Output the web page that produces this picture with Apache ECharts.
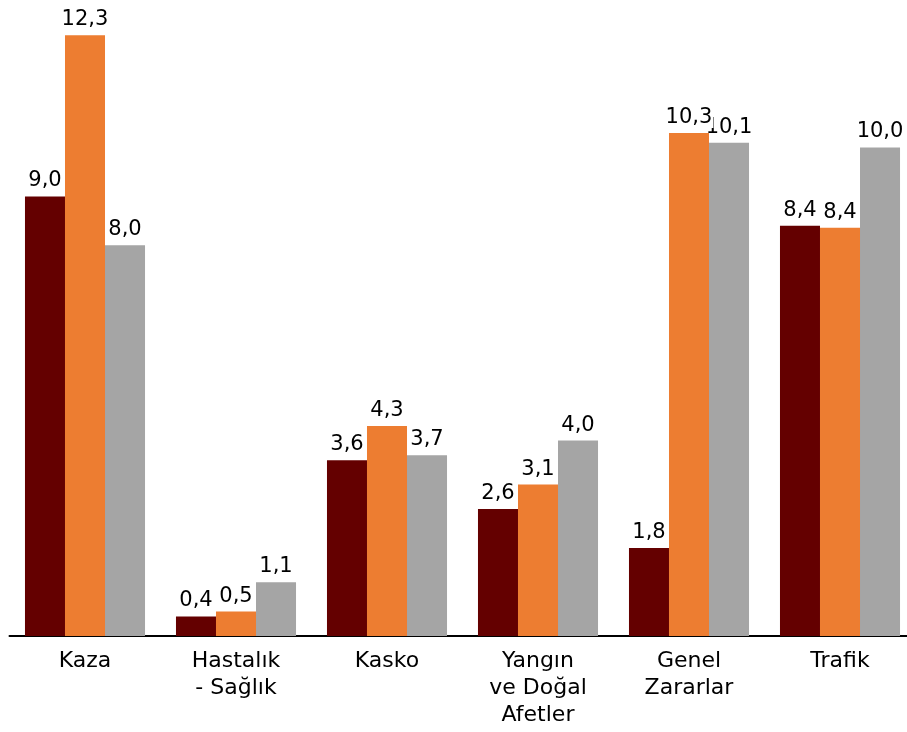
<!DOCTYPE html>
<html>
<head>
<meta charset="utf-8">
<script src="https://cdn.jsdelivr.net/npm/echarts@6/dist/echarts.min.js"></script>
<style>
  html, body { margin: 0; padding: 0; background: #fff; overflow: hidden; }
  #main { width: 916px; height: 732px; }
</style>
</head>
<body>
<div id="main"></div>
<script>
var categories = ['Kaza', 'Hastalık\n- Sağlık', 'Kasko', 'Yangın\nve Doğal\nAfetler', 'Genel\nZararlar', 'Trafik'];
var seri1 = [9.0, 0.4, 3.6, 2.6, 1.8, 8.4];
var seri2 = [12.3, 0.5, 4.3, 3.1, 10.3, 8.36];
var seri3 = [8.0, 1.1, 3.7, 4.0, 10.1, 10.0];
var colors = ['#640000', '#ED7D31', '#A5A5A5'];

var myChart = echarts.init(document.getElementById('main'));

var labelStyle = {
    show: true,
    position: 'top',
    distance: 5,
    color: '#000',
    fontFamily: 'DejaVu Sans',
    fontSize: 21,
    backgroundColor: '#fff',
    padding: [0, 1],
    formatter: function (p) {
        return p.value.toFixed(1).replace('.', ',');
    }
};

function makeSeries(name, data, color, z) {
    return {
        name: name,
        type: 'bar',
        data: data,
        z: z,
        barGap: '0%',
        barCategoryGap: '20.5%',
        itemStyle: { color: color },
        label: labelStyle
    };
}

var option = {
    animation: false,
    grid: { left: 9.5, right: 0.5, top: 1, bottom: 96, containLabel: false },
    xAxis: {
        type: 'category',
        data: categories,
        axisLine: { lineStyle: { color: '#000', width: 2 } },
        axisTick: { show: false },
        axisLabel: {
            color: '#000',
            fontFamily: 'DejaVu Sans',
            fontSize: 22,
            lineHeight: 27,
            margin: 12,
            interval: 0
        }
    },
    yAxis: {
        type: 'value',
        min: 0,
        max: 13,
        show: false,
        splitLine: { show: false }
    },
    series: [
        makeSeries('Seri 1', seri1, colors[0], 2),
        makeSeries('Seri 2', seri2, colors[1], 3),
        makeSeries('Seri 3', seri3, colors[2], 2)
    ]
};

myChart.setOption(option);
</script>
</body>
</html>
